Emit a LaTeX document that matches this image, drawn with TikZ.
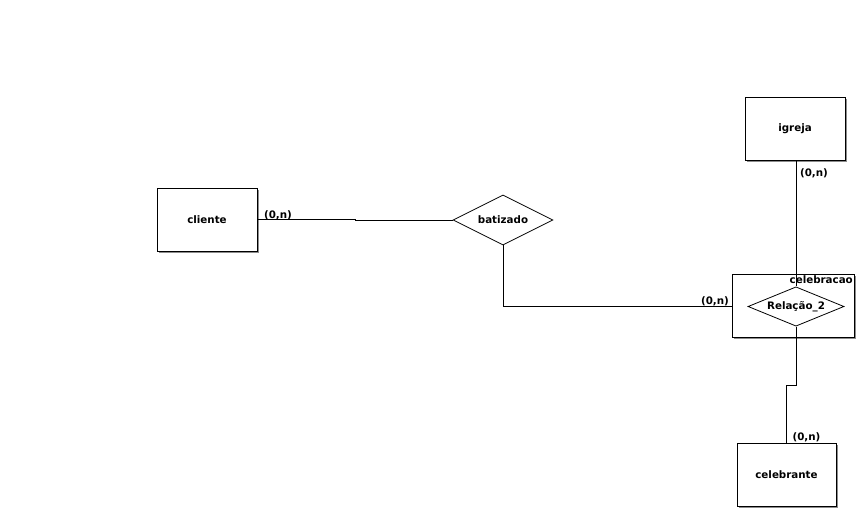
\documentclass[tikz,border=0pt]{standalone}
\usepackage{fontspec}
\setmainfont{DejaVu Sans}
\usetikzlibrary{shapes.geometric,shadows}
\begin{document}
\begin{tikzpicture}[x=1pt,y=-1pt,
  every node/.style={font=\bfseries\fontsize{10.3}{12}\selectfont, inner sep=1pt},
  entity/.style={draw, fill=white, line width=1pt, minimum width=100pt, minimum height=63pt,
    drop shadow={shadow xshift=1.5pt, shadow yshift=-1.5pt, fill=black!45, opacity=1}},
  relation/.style={draw, fill=white, diamond, aspect=2, line width=0.8pt, inner sep=0pt},
  link/.style={line width=1pt},
  card/.style={inner sep=0pt}]
\useasboundingbox (0,0) rectangle (864,514);

% entities
\node[entity] (cliente) at (207,219.5) {cliente};
\node[entity] (igreja) at (795,128.5) {igreja};
\node[entity, minimum width=99pt] (celebrante) at (786.5,474.5) {celebrante};
\node[entity, minimum width=122pt] (celebracao) at (793,305.5) {};
\node[anchor=north east, inner sep=1.5pt] (celebracaolbl) at (celebracao.north east) {celebracao};

% relationships
\node[relation, minimum width=100pt, minimum height=50pt] (batizado) at (503,220) {batizado};
\node[relation, minimum width=96pt, minimum height=35pt] (rel2) at (796,306.5) {Relação\_2};

% connectors
\draw[link] (cliente.east) -- ++(98,0) |- (batizado.west);
\draw[link] (batizado.south) |- (celebracao.west |- rel2.west);
\draw[link] (igreja.south -| rel2.north) -- (rel2.north);
\draw[link] (rel2.south) -- ++(0,59) -| (celebrante.north);

% cardinalities
\node[card] (c1) at (278,215) {(0,n)};
\node[card] (c2) at (814,173) {(0,n)};
\node[card] (c3) at (715,301) {(0,n)};
\node[card] (c4) at (806.5,437) {(0,n)};
\end{tikzpicture}
\end{document}
